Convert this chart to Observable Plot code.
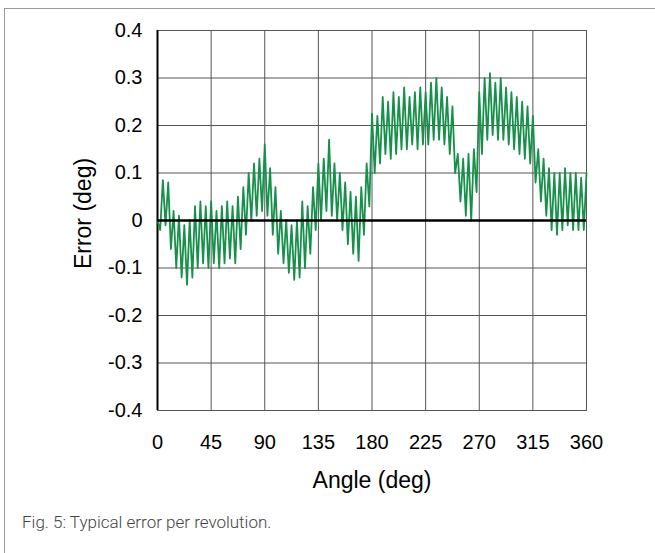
<!DOCTYPE html>
<html>
<head>
<meta charset="utf-8">
<script src="https://cdn.jsdelivr.net/npm/d3@7"></script>
<script src="https://cdn.jsdelivr.net/npm/@observablehq/plot@0.6"></script>
<style>
  html, body { margin: 0; padding: 0; background: #fff; }
  #wrap { position: relative; width: 655px; height: 553px; overflow: hidden; }
  #border { position: absolute; left: 4px; top: 8px; width: 700px; height: 600px;
            border-top: 1px solid #9a9a9a; border-left: 1px solid #9a9a9a; }
  #chart { position: absolute; left: 0; top: 0; }
  #caption { position: absolute; left: 22px; top: 512px; font-family: Roboto, "Liberation Sans", sans-serif;
             font-weight: 300; font-size: 17px; color: #444; }
</style>
</head>
<body>
<div id="wrap">
  <div id="border"></div>
  <div id="chart"></div>
  <div id="caption">Fig. 5: Typical error per revolution.</div>
</div>
<script>
// Sample spacing of the error trace (degrees)
const sampleStep = 2.25;
// Error values (deg), one per sample from 0 to 360 deg
const errors = [
  0.00, -0.02, 0.085, -0.01, 0.08, -0.06, 0.02, -0.10, 0.01, -0.12,
  -0.01, -0.135, 0.00, -0.12, 0.03, -0.10, 0.04, -0.09, 0.03, -0.10,
  0.04, -0.09, 0.02, -0.10, 0.03, -0.09, 0.04, -0.08, 0.03, -0.09,
  0.05, -0.06, 0.07, -0.03, 0.10, 0.00, 0.12, 0.01, 0.13, 0.02,
  0.16, 0.01, 0.11, -0.03, 0.07, -0.07, 0.02, -0.09, 0.00, -0.11,
  -0.01, -0.125, 0.00, -0.12, 0.04, -0.10, 0.03, -0.07, 0.07, -0.02,
  0.12, 0.00, 0.13, 0.02, 0.17, 0.01, 0.12, 0.00, 0.10, -0.02,
  0.08, -0.05, 0.06, -0.07, 0.05, -0.085, 0.07, -0.03, 0.12, 0.03,
  0.225, 0.10, 0.22, 0.12, 0.26, 0.14, 0.25, 0.13, 0.27, 0.14,
  0.26, 0.15, 0.28, 0.15, 0.26, 0.16, 0.27, 0.15, 0.28, 0.16,
  0.27, 0.16, 0.29, 0.17, 0.30, 0.17, 0.28, 0.16, 0.26, 0.14,
  0.24, 0.10, 0.14, 0.04, 0.13, 0.01, 0.14, 0.00, 0.15, 0.06,
  0.27, 0.14, 0.30, 0.17, 0.31, 0.18, 0.29, 0.17, 0.30, 0.17,
  0.28, 0.16, 0.27, 0.15, 0.26, 0.14, 0.25, 0.13, 0.24, 0.12,
  0.22, 0.08, 0.15, 0.04, 0.13, 0.01, 0.11, -0.02, 0.10, -0.03,
  0.10, -0.02, 0.11, -0.01, 0.10, -0.02, 0.10, -0.02, 0.09, -0.02,
  0.10
];
const xTicks = [0, 45, 90, 135, 180, 225, 270, 315, 360];
const yTicks = [-0.4, -0.3, -0.2, -0.1, 0, 0.1, 0.2, 0.3, 0.4];
const xLabel = "Angle (deg)";
const yLabel = "Error (deg)";

const data = errors.map((e, i) => ({angle: i * sampleStep, error: e}));
const font = "'Liberation Sans', Arial, sans-serif";

const chart = Plot.plot({
  width: 655,
  height: 500,
  marginLeft: 157,
  marginRight: 69,
  marginTop: 30,
  marginBottom: 90,
  style: {fontFamily: font, background: "transparent", color: "#000"},
  x: {domain: [0, 360]},
  y: {domain: [-0.4, 0.4]},
  marks: [
    Plot.gridX(xTicks, {stroke: "#555", strokeOpacity: 1, strokeWidth: 1}),
    Plot.gridY(yTicks, {stroke: "#555", strokeOpacity: 1, strokeWidth: 1}),
    Plot.frame({stroke: "#555", strokeWidth: 1}),
    Plot.ruleX([0], {stroke: "#000", strokeWidth: 2}),
    Plot.line(data, {x: "angle", y: "error", stroke: "#17904b", strokeWidth: 1.8}),
    Plot.ruleY([0], {stroke: "#000", strokeWidth: 2.5}),
    Plot.axisX(xTicks, {tickSize: 0, tickPadding: 24, fontSize: 20, label: null}),
    Plot.axisY(yTicks, {tickSize: 0, tickPadding: 15, fontSize: 20, label: null,
      tickFormat: d => d === 0 ? "0" : d.toFixed(1)}),
    Plot.text([xLabel], {frameAnchor: "bottom", textAnchor: "middle", dy: 77, fontSize: 23, fill: "#000"}),
    Plot.text([yLabel], {frameAnchor: "left", textAnchor: "middle", dx: -74, dy: -7, rotate: -90, fontSize: 23, fill: "#000"})
  ]
});
document.getElementById("chart").appendChild(chart);
</script>
</body>
</html>
